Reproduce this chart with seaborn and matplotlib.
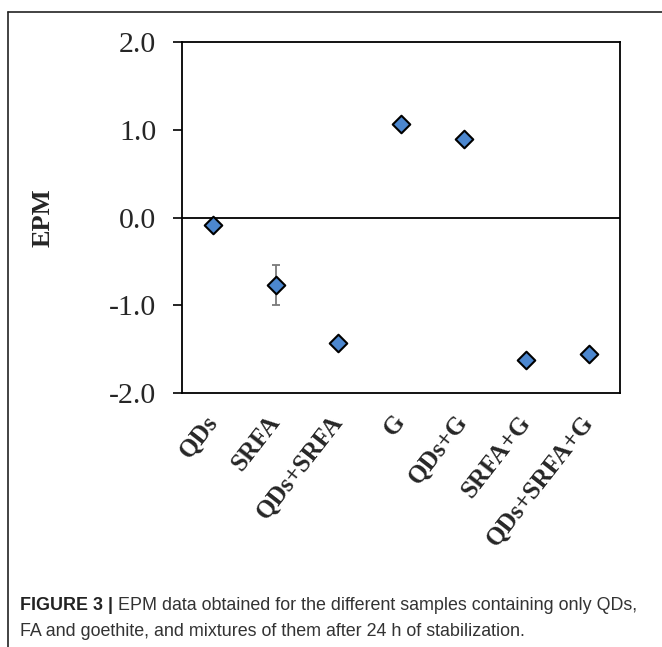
import matplotlib
matplotlib.use("Agg")
import matplotlib.pyplot as plt
import seaborn as sns
import pandas as pd
import numpy as np
from matplotlib.lines import Line2D

# ---- data ----
samples = ["QDs", "SRFA", "QDs+SRFA", "G", "QDs+G", "SRFA+G", "QDs+SRFA+G"]
epm = [-0.08, -0.77, -1.43, 1.07, 0.90, -1.62, -1.55]
epm_err = [0.0, 0.23, 0.0, 0.0, 0.0, 0.0, 0.0]
yticks = [-2.0, -1.0, 0.0, 1.0, 2.0]
ytick_labels = ["-2.0", "-1.0", "0.0", "1.0", "2.0"]
caption_bold = "FIGURE 3 |"
caption_line1 = " EPM data obtained for the different samples containing only QDs,"
caption_line2 = "FA and goethite, and mixtures of them after 24 h of stabilization."

df = pd.DataFrame({"sample": samples, "EPM": epm, "err": epm_err})

sns.set_theme(style="white")
plt.rcParams["font.family"] = ["Liberation Serif", "DejaVu Serif"]

W, H = 662, 647
fig = plt.figure(figsize=(W / 100, H / 100), dpi=100)
ax = fig.add_axes([182 / W, 1 - 393 / H, (620 - 182) / W, (393 - 42) / H])

# error bars (drawn under markers)
xpos = np.arange(len(samples))
err = df["err"].to_numpy()
mask = err > 0
ax.errorbar(xpos[mask], df["EPM"].to_numpy()[mask], yerr=err[mask], fmt="none",
            ecolor="#7a7a7a", elinewidth=1.3, capsize=3.2, capthick=1.3, zorder=2)

sns.scatterplot(data=df, x="sample", y="EPM", marker="D", s=80,
                color="#4c87cf", edgecolor="black", linewidth=1.5,
                zorder=3, ax=ax, legend=False)

ax.axhline(0, color="black", linewidth=1.3, zorder=1)

ax.set_xlim(-0.5, len(samples) - 0.5)
ax.set_ylim(-2.0, 2.0)
ax.set_yticks(yticks)
ax.set_yticklabels(ytick_labels)
ax.set_xticks(xpos)
ax.set_xticklabels(samples, rotation=52, ha="right", va="center",
                   rotation_mode="anchor", fontweight="bold", fontsize=18)
ax.tick_params(axis="y", direction="out", length=6.5, width=1.2, color="black",
               pad=12, labelsize=21.5, left=True)
ax.tick_params(axis="x", length=0, pad=18)
ax.set_xlabel("")
ax.set_ylabel("EPM", fontsize=19, fontweight="bold")
ax.yaxis.set_label_coords(-0.29, 0.5)

for sp in ax.spines.values():
    sp.set_visible(True)
    sp.set_color("black")
    sp.set_linewidth(1.3)

# outer figure frame (top and left border)
fig.add_artist(Line2D([7.7 / W, 7.7 / W], [0, 1 - 12.3 / H], transform=fig.transFigure,
                      color="#222222", linewidth=1.2))
fig.add_artist(Line2D([7.7 / W, 1], [1 - 12.3 / H, 1 - 12.3 / H], transform=fig.transFigure,
                      color="#222222", linewidth=1.2))

# caption
cap_font = ["Liberation Sans", "DejaVu Sans"]
t1 = fig.text(20 / W, 1 - 610 / H, caption_bold, fontsize=12.9, fontweight="bold",
              family=cap_font, color="#222222", va="baseline", ha="left")
ax.annotate(caption_line1, xy=(1, 0), xycoords=t1, va="bottom", ha="left",
            fontsize=12.9, family=cap_font, color="#333333", annotation_clip=False)
fig.text(20 / W, 1 - 636 / H, caption_line2, fontsize=12.9, family=cap_font,
         color="#333333", va="baseline", ha="left")

fig.savefig("out.png", dpi=100)
